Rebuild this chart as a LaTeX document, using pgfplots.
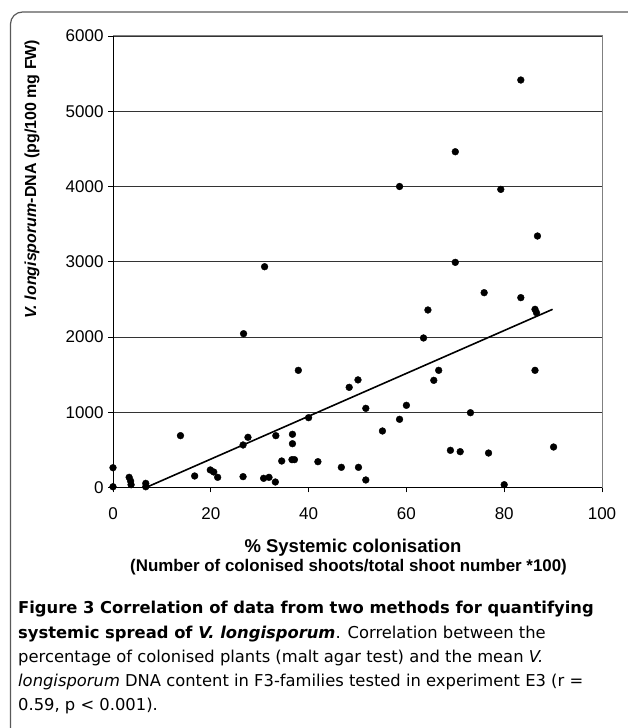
\documentclass[border=0pt]{standalone}
\usepackage{fontspec}
\setmainfont{Liberation Sans}
\newfontfamily\capfont{DejaVu Sans}
\usepackage{pgfplots}
\pgfplotsset{compat=1.18}
\begin{document}
\begin{tikzpicture}
\path[use as bounding box] (0,0) rectangle (628pt,728pt);
\draw[gray!70!black, line width=1.2pt, rounded corners=12pt] (10.5pt,716pt) rectangle (660pt,-40pt);
\begin{axis}[
  at={(113pt,240.5pt)}, anchor=south west,
  scale only axis, width=489pt, height=451.5pt,
  xmin=0, xmax=100, ymin=0, ymax=6000,
  xtick={0,20,40,60,80,100}, ytick={0,1000,2000,3000,4000,5000,6000},
  xtick pos=left, ytick pos=left,
  tick align=outside, major tick length=5pt,
  tick style={black, line width=0.8pt},
  axis line style={draw=gray, line width=1pt},
  ymajorgrids, grid style={black!80, line width=0.7pt},
  /pgf/number format/assume math mode=true,
  /pgf/number format/1000 sep={},
  ticklabel style={font=\fontsize{17}{20}\selectfont},
  xticklabel style={yshift=-12pt},
  yticklabel style={xshift=-1pt},
  clip=false,
]
\addplot[black, line width=1.6pt] coordinates {(6.75,0) (89.9,2368)};
\addplot[only marks, mark=*, mark size=3.4pt, black] table {
x y
0 263
0 10
3.3 135
3.6 86
3.7 37
6.7 55
6.7 10
13.8 689
16.7 153
19.9 233
20.6 206
21.4 135
26.6 565
27.6 667
26.6 144
26.7 2044
31.0 2934
30.8 122
31.9 135
33.2 73
33.3 689
34.5 352
36.7 707
36.7 582
36.6 370
37.1 370
37.9 1557
40.0 928
41.9 343
46.7 268
48.3 1331
50.1 1430
50.2 268
51.7 1052
51.7 100
55.1 751
58.6 906
58.6 4000
60.0 1092
63.5 1987
64.4 2359
65.6 1424
66.6 1557
69.0 494
70.0 4462
70.0 2992
71.0 476
73.1 994
75.9 2589
76.8 458
79.3 3962
80.0 37
83.4 5415
83.4 2523
86.3 2368
86.6 2323
86.3 1557
86.8 3342
90.1 538
};
\draw[black, line width=1pt] (axis cs:0,6000) -- (axis cs:0,0) -- (axis cs:100,0);
\end{axis}
\node[rotate=90, font=\bfseries\fontsize{16}{19}\selectfont] at (32pt,549pt) {\textit{V. longisporum}-DNA (pg/100 mg FW)};
\node[anchor=base, font=\bfseries\fontsize{18.5}{21}\selectfont, inner sep=0pt] at (353pt,175pt) {\% Systemic colonisation};
\node[anchor=base, font=\bfseries\fontsize{16.9}{19}\selectfont, inner sep=0pt] at (348.5pt,156pt) {(Number of colonised shoots/total shoot number *100)};
\begin{scope}[every node/.style={anchor=base west, inner sep=0pt, font=\capfont\fontsize{16.35}{19}\selectfont}]
\node at (18pt,114pt) {\textbf{Figure 3 Correlation of data from two methods for quantifying}};
\node at (18pt,89.5pt) {\textbf{systemic spread of \textit{V. longisporum}}. Correlation between the};
\node at (18pt,65pt) {percentage of colonised plants (malt agar test) and the mean \textit{V.}};
\node at (18pt,41pt) {\textit{longisporum} DNA content in F3-families tested in experiment E3 (r =};
\node at (18pt,17pt) {0.59, p < 0.001).};
\end{scope}
\end{tikzpicture}
\end{document}
